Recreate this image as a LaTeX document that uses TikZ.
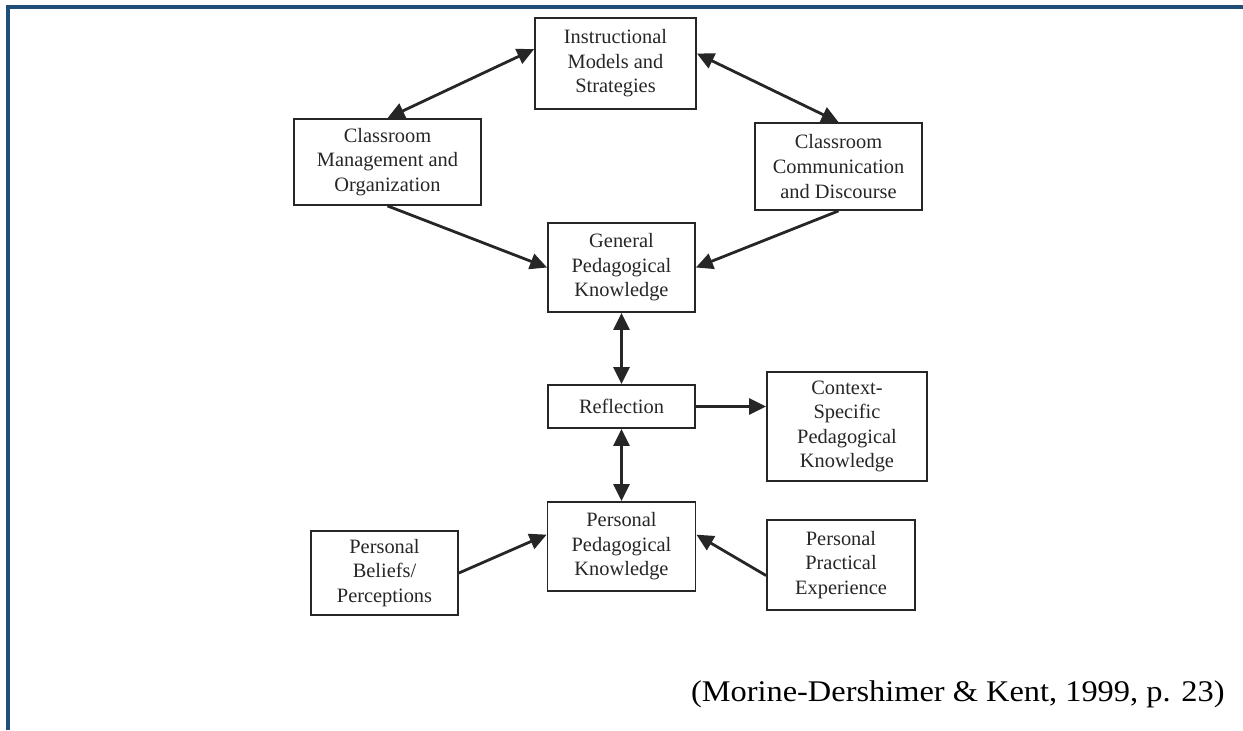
\documentclass[tikz,border=0pt]{standalone}
\usepackage{fontspec}
\setmainfont{Liberation Serif}
\newfontfamily\citefont[FakeStretch=1.08]{Liberation Serif}
\usepackage{tikz}
\usetikzlibrary{arrows.meta}

\definecolor{frameblue}{RGB}{31,78,121}

\tikzset{
  box/.style={draw=black!85, line width=0.9pt, align=center, inner sep=0pt,
    text=black!85, font=\fontsize{10.2}{12.3}\selectfont},
  link/.style={line width=1.4pt, draw=black!85,
    -{Triangle[length=8.5pt,width=8pt]}},
  biglink/.style={link, {Triangle[length=8.5pt,width=8pt]}-{Triangle[length=8.5pt,width=8pt]}}
}

\begin{document}
\begin{tikzpicture}[x=0.5pt,y=-0.5pt]
\useasboundingbox (0,0) rectangle (1243,730);
\draw[frameblue, line width=2pt] (8,730) -- (8,7) -- (1243,7);

\node[box, minimum width=80.5pt, minimum height=45.5pt] (instr) at (615.5,63.5) {Instructional\\Models and\\Strategies};
\node[box, minimum width=93.5pt, minimum height=43pt] (cm) at (387.5,162) {Classroom\\Management and\\Organization};
\node[box, minimum width=83.5pt, minimum height=43.5pt] (cc) at (838.5,166.5) {Classroom\\Communication\\and Discourse};
\node[box, minimum width=73.5pt, minimum height=44.5pt] (gp) at (621.5,267.5) {General\\Pedagogical\\Knowledge};
\node[box, minimum width=73.5pt, minimum height=21.5pt] (refl) at (621.5,406.5) {Reflection};
\node[box, minimum width=80pt, minimum height=54.5pt] (ctx) at (847,426.5) {Context-\\Specific\\Pedagogical\\Knowledge};
\node[box, minimum width=74pt, minimum height=44.5pt] (ppk) at (621.5,546.5) {Personal\\Pedagogical\\Knowledge};
\node[box, minimum width=73.5pt, minimum height=42pt] (belief) at (384.5,573) {Personal\\Beliefs/\\Perceptions};
\node[box, minimum width=74pt, minimum height=45pt] (pract) at (841,565) {Personal\\Practical\\Experience};

\draw[biglink] (cm.north) -- (instr.170);
\draw[biglink] (instr.7) -- (cc.north);
\draw[link] (cm.south) -- (gp.west);
\draw[link] (cc.south) -- (gp.east);
\draw[biglink] (gp.south) -- (refl.north);
\draw[link] (refl.east) -- (refl.east -| ctx.west);
\draw[biglink] (refl.south) -- (ppk.north);
\draw[link] (belief.east) -- (ppk.171);
\draw[link] (pract.188) -- (ppk.9);

\node[anchor=east, inner sep=0pt, font=\citefont\fontsize{15}{17}\selectfont] (cite) at (1225,694) {(Morine-Dershimer \& Kent, 1999, p. 23)};
\end{tikzpicture}
\end{document}
